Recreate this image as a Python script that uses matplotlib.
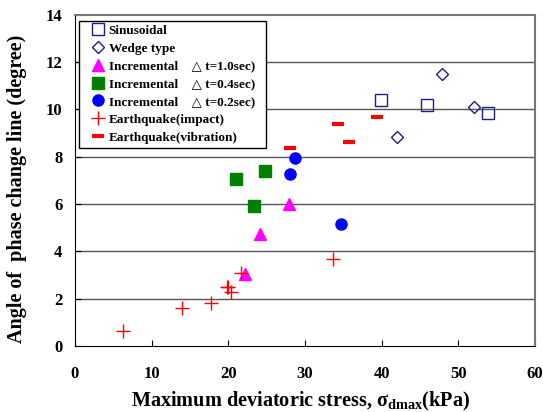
import matplotlib
matplotlib.use("Agg")
import matplotlib.pyplot as plt

plt.rcParams['font.family'] = ['Liberation Serif', 'DejaVu Serif']
plt.rcParams['font.weight'] = 'bold'
plt.rcParams['mathtext.fontset'] = 'custom'
plt.rcParams['mathtext.rm'] = 'Liberation Serif:bold'
plt.rcParams['mathtext.bf'] = 'Liberation Serif:bold'
plt.rcParams['mathtext.it'] = 'Liberation Serif:bold'

sin_x = [39.9, 45.9, 53.9]
sin_y = [10.4, 10.2, 9.83]
wedge_x = [47.9, 52.0, 42.0]
wedge_y = [11.5, 10.1, 8.82]
inc10_x = [27.9, 24.1, 22.2]
inc10_y = [6.0, 4.75, 3.05]
inc04_x = [20.95, 24.8, 23.4]
inc04_y = [7.06, 7.42, 5.93]
inc02_x = [28.7, 28.0, 34.7]
inc02_y = [7.96, 7.26, 5.15]
eqi_x = [6.3, 14.0, 17.8, 19.8, 20.0, 20.4, 21.7, 33.7]
eqi_y = [0.65, 1.63, 1.84, 2.48, 2.48, 2.28, 3.1, 3.69]
eqv_x = [28.0, 34.3, 35.7, 39.4]
eqv_y = [8.38, 9.37, 8.61, 9.69]

fig = plt.figure(figsize=(5.43, 4.12), dpi=100)
ax = fig.add_axes([0.138, 0.160, 0.847, 0.804])

ax.plot(sin_x, sin_y, 's', ms=8, mfc='none', mec='#1c1c8c', mew=1.0, label='Sinusoidal', zorder=3)
ax.plot(wedge_x, wedge_y, 'D', ms=6, mfc='none', mec='#1c1c8c', mew=1.0, label='Wedge type', zorder=3)
ax.plot(inc10_x, inc10_y, '^', ms=9, color='#ff00ff', label='Incremental    \u25b3 t=1.0sec)  ', zorder=3)
ax.plot(inc04_x, inc04_y, 's', ms=8, color='#007f00', label='Incremental    \u25b3 t=0.4sec)  ', zorder=3)
ax.plot(inc02_x, inc02_y, 'o', ms=8, color='#0000ff', label='Incremental    \u25b3 t=0.2sec)  ', zorder=3)
ax.plot(eqi_x, eqi_y, '+', ms=10, mew=1.0, color='#ff0000', label='Earthquake(impact)', zorder=3)
ax.plot(eqv_x, eqv_y, '_', ms=9, mew=3, color='#ff0000', label='Earthquake(vibration)', zorder=3)

ax.set_xlim(0, 60)
ax.set_ylim(0, 14)
ax.set_xticks(range(0, 61, 10))
ax.set_yticks(range(0, 15, 2))
for y in range(2, 14, 2):
    ax.axhline(y, color='#555555', lw=1.0, zorder=1)
ax.tick_params(direction='in', labelsize=12, length=4)
for lab in ax.get_xticklabels() + ax.get_yticklabels():
    lab.set_fontweight('bold')
ax.tick_params(axis='x', pad=14)
ax.tick_params(axis='y', pad=9)
ax.spines['right'].set_color('#777777')
ax.spines['top'].set_color('#777777')
ax.spines['right'].set_linewidth(1.5)
ax.spines['top'].set_linewidth(1.5)

ax.set_xlabel('Maximum deviatoric stress, $\\mathbf{\\sigma}_{\\mathrm{dmax}}$(kPa)', fontsize=14.6, fontweight='bold')
ax.xaxis.set_label_coords(0.49, -0.132)
ax.set_ylabel('Angle of  phase change line (degree)', fontsize=14.5, fontweight='bold')
ax.yaxis.set_label_coords(-0.105, 0.475)

leg = ax.legend(loc='upper left', bbox_to_anchor=(0.003, 0.99), fancybox=False, edgecolor='black',
                framealpha=1, fontsize=9.5, handlelength=2.3, handletextpad=-0.35, borderpad=0.3,
                labelspacing=0.42, borderaxespad=0.2)
leg.get_frame().set_linewidth(1.0)
for t in leg.get_texts():
    t.set_fontweight('bold')

fig.savefig('out.png', dpi=100)
